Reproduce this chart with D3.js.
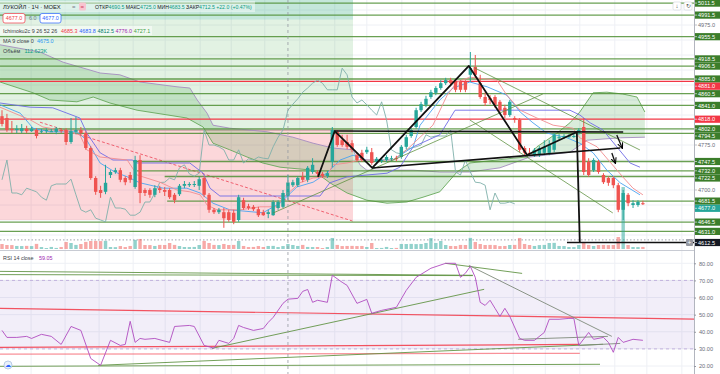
<!DOCTYPE html>
<html>
<head>
<meta charset="utf-8">
<script src="https://cdn.jsdelivr.net/npm/d3@7"></script>
<style>
html, body { margin: 0; padding: 0; background: #fff; }
svg { display: block; font-family: "Liberation Sans", Arial, sans-serif; }
</style>
</head>
<body>
<svg id="chart" width="720" height="374"></svg>
<script>
'use strict';

// ---- data ----
// hourly candles, [open, high, low, close]
const ohlc = [
  [4823,4833,4806,4810],[4820,4827,4797,4800],[4802,4815,4795,4800],[4800,4808,4795,4802],[4798,4810,4795,4803],
  [4802,4807,4795,4798],[4798,4805,4797,4802],[4800,4803,4786,4790],[4798,4802,4795,4798],[4798,4803,4795,4800],
  [4798,4802,4797,4798],[4797,4805,4793,4802],[4800,4803,4795,4798],[4800,4803,4775,4780],[4780,4820,4777,4798],
  [4797,4822,4793,4800],[4800,4805,4790,4795],[4795,4798,4767,4770],[4770,4773,4717,4720],[4720,4723,4692,4697],
  [4700,4707,4687,4695],[4697,4742,4693,4712],[4725,4733,4720,4730],[4730,4737,4727,4733],[4733,4737,4713,4717],
  [4720,4723,4708,4713],[4725,4730,4712,4717],[4705,4757,4702,4750],[4750,4758,4678,4695],[4700,4703,4690,4695],
  [4700,4703,4687,4692],[4692,4708,4688,4703],[4703,4707,4695,4700],[4700,4705,4690,4697],[4700,4703,4685,4688],
  [4692,4695,4678,4683],[4693,4710,4690,4707],[4707,4715,4703,4710],[4708,4713,4705,4710],[4710,4715,4705,4710],
  [4707,4722,4700,4718],[4720,4723,4688,4692],[4692,4695,4662,4667],[4667,4670,4660,4663],[4663,4670,4660,4667],
  [4663,4670,4637,4653],[4663,4667,4647,4650],[4662,4667,4643,4647],[4650,4692,4647,4688],[4683,4687,4667,4670],
  [4673,4677,4667,4670],[4672,4675,4665,4668],[4668,4672,4655,4658],[4663,4667,4657,4658],[4660,4667,4653,4663],
  [4658,4683,4657,4680],[4670,4683,4667,4680],[4672,4700,4670,4695],[4690.5,4725,4683.5,4712.5],[4708,4717,4705,4713],
  [4708,4723,4705,4720],[4722,4730,4713,4717],[4717,4740,4713,4737],[4730,4753,4727,4742],[4730,4733,4723,4727],
  [4727,4730,4720,4723],[4723,4732,4720,4728],[4747,4805,4738,4800],[4797,4800,4772,4775],[4783,4792,4772,4775],
  [4780,4792,4768,4772],[4778,4783,4763,4767],[4758,4762,4747,4750],[4762,4767,4747,4750],[4763,4772,4760,4767],
  [4763,4770,4742,4745],[4747,4755,4743,4752],[4750,4755,4745,4750],[4750,4758,4747,4755],[4752,4757,4748,4753],
  [4753,4757,4748,4752],[4755,4775,4752,4772],[4772,4792,4768,4788],[4790,4803,4787,4800],[4805,4837,4802,4833],
  [4833,4847,4830,4843],[4842,4857,4838,4852],[4855,4867,4852,4863],[4862,4873,4858,4870],[4870,4883,4867,4878],
  [4878,4887,4875,4883],[4883,4887,4873,4878],[4880,4885,4863,4867],[4880,4883,4863,4867],[4880,4883,4863,4867],
  [4892,4930,4880,4903],[4905,4925,4887,4892],[4878,4892,4852,4855],[4855,4863,4840,4845],[4853,4858,4843,4850],
  [4855,4858,4837,4842],[4847,4850,4830,4833],[4837,4842,4820,4825],[4825,4850,4822,4847],[4820,4823,4812,4817],
  [4817,4820,4763,4767],[4770,4773,4758,4762],[4762,4770,4757,4760],[4758,4770,4755,4767],[4758,4773,4755,4770],
  [4762,4783,4758,4772],[4762,4783,4758,4775],[4767,4795,4763,4792],[4787,4793,4783,4788],[4788,4793,4785,4790],
  [4788,4793,4787,4790],[4790,4795,4787,4790],[4795,4803,4792,4800],[4805,4820,4725,4730],[4747,4753,4722,4725],
  [4733,4753,4730,4750],[4747,4750,4727,4730],[4725,4728,4710,4713],[4720,4723,4707,4712],[4720,4723,4703,4708],
  [4708,4712,4663,4667],[4667,4700,4650,4695],[4692,4695,4673,4678],[4675,4683,4670,4678],[4675,4683,4672,4680],
  [4678,4682,4675,4677]
];
// volume per candle, thousands
const volumes = [
  112,90,88,68,66,70,65,115,44,22,46,24,44,158,135,92,112,160,180,182,178,184,45,42,66,44,68,205,226,90,
  88,68,92,90,135,92,66,45,44,46,90,182,135,92,88,113,90,92,180,68,44,46,66,45,68,70,44,66,112.623,90,
  68,92,46,44,45,22,44,248,92,66,68,70,66,68,45,135,22,24,46,22,24,113,112,115,110,113,135,246,135,180,
  90,68,66,92,90,250,158,112,90,92,88,66,68,90,92,248,113,90,68,88,92,135,138,68,66,45,44,90,135,92,
  68,90,92,88,90,270,1395,90,45,44,46
];
const hoverBar = 58;

// Ichimoku (9 26 52 26) and MA 9, as [bar, price]
const tenkan = [[-0.4,4838],[5.7,4817],[8.3,4805],[11.8,4800],[15.8,4792],[17.2,4767],[19.9,4755],[25.4,4750],
  [27.4,4725],[32,4713],[35.5,4700],[38.1,4697],[40.2,4692],[41.6,4675],[43.6,4667],[48.3,4667],[52.3,4672],
  [55.8,4672],[57,4687],[60.4,4712],[63.1,4720],[65.9,4722],[67.1,4742],[70,4745],[72.6,4750],[79.3,4750],
  [82.1,4767],[84.8,4788],[87.4,4808],[90.3,4858],[92.3,4880],[94.9,4888],[100.4,4883],[102.4,4858],
  [105.1,4833],[108.5,4820],[111.8,4808],[115.8,4803],[117.2,4787],[120.7,4772],[123.3,4747],[125.9,4722],
  [128,4703],[130,4692]];
const kijun = [[-0.4,4845],[5.7,4838],[10.3,4837],[15.8,4820],[17.2,4795],[19.9,4762],[22.5,4750],[26.4,4750],
  [27.4,4745],[38.1,4745],[40.8,4728],[42.2,4703],[44.2,4690],[64.5,4690],[66.5,4712],[70,4722],[74,4725],
  [78.1,4728],[80.7,4738],[83.4,4772],[88.8,4792],[91.9,4833],[115.2,4833],[117.2,4825],[119.3,4812],
  [121.9,4800],[124.7,4772],[127.4,4745],[129.4,4738]];
const ma9 = [[-0.4,4842],[3.7,4828],[6.3,4803],[9.7,4797],[15.2,4797],[17.2,4783],[19.9,4745],[22.9,4730],
  [25.4,4722],[28,4712],[32.7,4703],[37.5,4703],[40.2,4695],[42.8,4678],[46.2,4667],[52.9,4662],[56.4,4678],
  [59.8,4705],[63.1,4713],[65.9,4728],[68.6,4750],[71.2,4758],[74,4750],[79.3,4750],[83.4,4772],[84.8,4808],
  [88.8,4850],[91.5,4870],[94.9,4880],[98.4,4872],[102.4,4858],[105.1,4830],[107.7,4812],[110.5,4795],
  [114.6,4787],[117.2,4778],[119.9,4762],[122.7,4733],[125.4,4712],[129.4,4692]];
const spanA = [[-0.4,4880],[6.3,4862],[9.7,4850],[15.2,4847],[18.5,4855],[21.9,4845],[27.4,4833],[37.5,4820],
  [40.8,4805],[42.8,4778],[46.2,4767],[49.7,4755],[52.9,4745],[56.4,4738],[63.1,4733],[66.5,4712],[70,4695],
  [74,4683],[78.1,4678],[82.1,4680],[85.4,4688],[88.8,4697],[92.3,4730],[94.9,4745],[100.4,4750],[103.7,4753],
  [106.5,4755],[108.5,4772],[110.5,4783],[112.6,4795],[115.2,4812],[117.2,4830],[119.9,4862],[122.7,4863],
  [125.9,4860],[128.8,4855],[130.4,4830]];
const spanB = [[-0.4,4942],[7.7,4930],[12.4,4913],[19.9,4895],[23.9,4892],[28,4880],[35.5,4872],[38.1,4870],
  [39.6,4850],[41.6,4828],[42.8,4808],[46.2,4803],[53.8,4797],[59,4788],[63.1,4778],[67.1,4770],[71.2,4767],
  [72.6,4742],[74,4733],[83.4,4733],[88.8,4730],[94.9,4730],[101,4737],[107.1,4755],[115.2,4763],[118.7,4783],
  [125.4,4787],[130.4,4788]];
const chikouShift = 26;
const ichiValues = [4685.3, 4683.8, 4812.5, 4776.0, 4727.1];
const maValue = 4675.0;

// RSI 14
const rsiBars = [0,1,3,5,6,8,10,12,14,16,18,20,22,24,25,26,27,28,29,31,34,35,38,39,41,43,44,46,47,48,49,51,53,54,55,
  57,58,60,61,62,63,64,66,67,69,70,72,74,75,77,80,82,84,87,90,92,93,94,95,96,97,98,99,100,101,102,103,105,106,108,
  110,111,113,115,116,117,119,120,122,123,124,125,126,128,130];
const rsiValues = [40.8,36.7,36.7,37.3,36.1,38.5,37.3,32.6,43.1,40.8,24.4,20.4,35.0,32.0,32.6,46.1,33.8,36.1,35.6,
  36.1,33.8,43.1,43.7,43.1,32.0,30.4,35.0,33.2,36.1,43.7,42.5,40.8,41.9,45.5,48.4,56.6,59.05,59.5,63.6,64.7,57.2,
  58.4,57.2,73.0,68.9,67.1,56.6,58.9,50.8,52.5,54.3,64.2,71.8,77.1,80.0,80.0,71.8,74.2,78.2,71.8,57.2,55.4,58.4,
  53.7,49.0,53.7,49.0,36.1,35.0,35.0,39.6,47.3,47.3,47.8,47.8,32.0,39.6,35.6,36.7,33.8,28.0,36.7,33.8,35.6,35.0];
const rsiTicks = [20, 30, 40, 50, 60, 70, 80];

// drawn levels and tools
const levelPrices = [5011.5, 4991.5, 4955.5, 4918.5, 4906.5, 4885.0, 4860.5, 4841.0, 4802.0, 4794.5,
  4747.5, 4732.0, 4722.5, 4681.5, 4646.5, 4631.0];
const levelFromBars = [-1, -1, -1, -1, -1, -1, -1, -1, -1, -1, 26.6, 27.4, 33, 33.5, -1, -1];
const redLevels = [4881.0, 4818.0];
const keyLevel = 4612.5, keyLevelFrom = 114.6;
const plainTicks = [4975.0, 4775.0, 4700.0];
const lastPrice = 4677.0;
const priceGrid = d3.range(4625, 5016, 25);
const gridBars = [5.9, 12.8, 19.7, 26.6, 33.1, 40.2, 46.5, 53.3, 60.4, 67.5, 74, 81.1, 87.8, 94.9, 103.7,
  110.2, 117.2, 124.3, 130.8, 137.9];

// long position tool
const posBars = [-1, 71.2];
const posTarget = 5030, posLabel = 4984, posEntry = 4800, posStop = 4650;
const posDiag = [[7.7, 4813], [71.2, 4648]];

// pattern and trend lines, [bar, price]
const pattern = [[64.1,4721.7],[67.5,4798.3],[75.1,4736.7],[94.7,4906.7],[106.5,4758.3],[116.6,4796.7],[117.2,4612.5]];
const blackLines = [[[67.5,4798.3],[126,4796.7]], [[75.1,4736.7],[125.4,4770]]];
const arrows = [[[124.7,4791.7],[125.8,4770]], [[123.7,4761.7],[124.4,4745]]];
const greenTrends = [[[55,4661.7],[109.7,4860]], [[95.9,4903.3],[129.4,4766.7]], [[94.9,4816.7],[123.9,4661.7]]];

// RSI drawings, [bar, rsi]
const rsiRedLines = [[[-1,53.7],[141,47.4]], [[-1,30.9],[117.2,32.6]], [[-1,26.9],[117.2,27.4]]];
const rsiGreenLines = [[[-1,75.3],[95.5,73.0]], [[-1,73.4],[95.5,72.8]], [[89.9,80.0],[105.5,74.1]],
  [[42.6,30.3],[97.8,64.8]], [[19.5,20.4],[121.9,32.7]], [[-1,19.8],[121.3,21.0]]];
const rsiGreyLines = [[[94.7,78.8],[123.7,37.3]], [[104.7,35.6],[122.9,37.3]], [[117.2,32.0],[125.4,33.2]]];

// ---- layout ----
const plotW = 694, mainH = 250, rsiTop = 251, H = 374;
const UP = '#26a69a', DOWN = '#ef5350';

const x = d3.scaleLinear().domain([0, 140]).range([2, 692.2]);
const yP = d3.scaleLinear().domain([4600, 5016.67]).range([mainH, 0]);
const yV = d3.scaleLinear().domain([0, 1400]).range([249, 186.8]);
const yR = d3.scaleLinear().domain([20, 80]).range([366, 263.3]);

const svg = d3.select('#chart');
const defs = svg.append('defs');
defs.append('clipPath').attr('id', 'clipMain').append('rect').attr('width', plotW).attr('height', mainH);
defs.append('clipPath').attr('id', 'clipRsi').append('rect')
  .attr('y', rsiTop).attr('width', plotW).attr('height', H - rsiTop);
defs.append('marker').attr('id', 'arrow').attr('viewBox', '0 0 10 10').attr('refX', 8).attr('refY', 5)
  .attr('markerWidth', 5).attr('markerHeight', 5).attr('orient', 'auto-start-reverse')
  .append('path').attr('d', 'M0,1 L9,5 L0,9').attr('fill', 'none').attr('stroke', '#000').attr('stroke-width', 1.6);

const lineP = d3.line().x(d => x(d[0])).y(d => yP(d[1]));
const lineR = d3.line().x(d => x(d[0])).y(d => yR(d[1]));

// ---- main pane ----
const gm = svg.append('g').attr('clip-path', 'url(#clipMain)');

gm.selectAll('.vg').data(gridBars).join('line').attr('class', 'vg')
  .attr('x1', d => x(d)).attr('x2', d => x(d)).attr('y1', 0).attr('y2', mainH)
  .attr('stroke', '#eef0f5');
gm.selectAll('.hg').data(priceGrid).join('line').attr('class', 'hg')
  .attr('x1', 0).attr('x2', plotW).attr('y1', d => yP(d)).attr('y2', d => yP(d))
  .attr('stroke', '#eef0f5');

// position tool
const px0 = x(posBars[0]), px1 = x(posBars[1]);
gm.append('rect').attr('x', px0).attr('width', px1 - px0)
  .attr('y', yP(posTarget)).attr('height', yP(posEntry) - yP(posTarget))
  .attr('fill', 'rgba(76,175,80,0.16)');
gm.append('rect').attr('x', px0).attr('width', px1 - px0)
  .attr('y', yP(posTarget)).attr('height', yP(posLabel) - yP(posTarget))
  .attr('fill', 'rgba(0,160,170,0.13)');
gm.append('rect').attr('x', px0).attr('width', px1 - px0)
  .attr('y', yP(posEntry)).attr('height', yP(posStop) - yP(posEntry))
  .attr('fill', 'rgba(242,54,69,0.2)');
gm.append('line').attr('x1', px0).attr('x2', px1).attr('y1', yP(posEntry)).attr('y2', yP(posEntry))
  .attr('stroke', '#b08a88').attr('stroke-width', 1);
gm.append('path').attr('d', lineP(posDiag)).attr('fill', 'none')
  .attr('stroke', '#f06070').attr('stroke-width', 1).attr('stroke-dasharray', '3,2');

// cloud
gm.append('path').attr('d', lineP(spanA.concat(spanB.slice().reverse())) + 'Z')
  .attr('fill', 'rgba(67,160,71,0.2)');
gm.append('path').attr('d', lineP(spanA)).attr('fill', 'none').attr('stroke', '#66a85a').attr('stroke-width', 0.9);
gm.append('path').attr('d', lineP(spanB)).attr('fill', 'none').attr('stroke', '#a58cc0').attr('stroke-width', 0.9);

// horizontal levels
gm.selectAll('.lvl').data(levelPrices).join('line').attr('class', 'lvl')
  .attr('x1', (d, i) => x(levelFromBars[i])).attr('x2', plotW)
  .attr('y1', d => yP(d)).attr('y2', d => yP(d))
  .attr('stroke', '#4f8f34').attr('stroke-opacity', 0.85).attr('stroke-width', 1.3);
gm.selectAll('.red').data(redLevels).join('line').attr('class', 'red')
  .attr('x1', 0).attr('x2', plotW).attr('y1', d => yP(d)).attr('y2', d => yP(d))
  .attr('stroke', '#f23645').attr('stroke-width', 1.3);

// volume
const barW = 3.4;
gm.append('line').attr('x1', 0).attr('x2', plotW).attr('y1', yV(205)).attr('y2', yV(205))
  .attr('stroke', '#a0a3ab').attr('stroke-dasharray', '1.5,2');
gm.selectAll('.vol').data(volumes).join('rect').attr('class', 'vol')
  .attr('x', (d, i) => x(i) - barW / 2).attr('width', barW)
  .attr('y', d => yV(d)).attr('height', d => yV(0) - yV(d))
  .attr('fill', (d, i) => ohlc[i][3] >= ohlc[i][0] ? 'rgba(38,166,154,0.5)' : 'rgba(239,83,80,0.5)');

// indicator lines
const closes = ohlc.map(d => d[3]);
const chikou = closes.slice(chikouShift).map((c, i) => [i, c]);
gm.append('path').attr('d', lineP(chikou)).attr('fill', 'none').attr('stroke', '#7fb0aa').attr('stroke-width', 0.9);
gm.append('path').attr('d', lineP(kijun)).attr('fill', 'none').attr('stroke', '#6f6be6').attr('stroke-width', 0.9);
gm.append('path').attr('d', lineP(ma9)).attr('fill', 'none').attr('stroke', '#4aa3f0').attr('stroke-width', 0.9);
gm.append('path').attr('d', lineP(tenkan)).attr('fill', 'none').attr('stroke', '#f28c90').attr('stroke-width', 0.9);

// candles
const cg = gm.selectAll('.cdl').data(ohlc).join('g').attr('class', 'cdl');
cg.append('line')
  .attr('x1', (d, i) => x(i)).attr('x2', (d, i) => x(i))
  .attr('y1', d => yP(d[1])).attr('y2', d => yP(d[2]))
  .attr('stroke', d => d[3] >= d[0] ? UP : DOWN).attr('stroke-width', 1);
cg.append('rect')
  .attr('x', (d, i) => x(i) - barW / 2).attr('width', barW)
  .attr('y', d => yP(Math.max(d[0], d[3])))
  .attr('height', d => Math.max(1, Math.abs(yP(d[0]) - yP(d[3]))))
  .attr('fill', d => d[3] >= d[0] ? UP : DOWN);

// trend lines and pattern
gm.selectAll('.gt').data(greenTrends).join('path').attr('class', 'gt')
  .attr('d', d => lineP(d)).attr('fill', 'none')
  .attr('stroke', '#5b8f3c').attr('stroke-opacity', 0.85).attr('stroke-width', 0.9);
gm.append('line').attr('x1', x(keyLevelFrom)).attr('x2', plotW)
  .attr('y1', yP(keyLevel)).attr('y2', yP(keyLevel)).attr('stroke', '#111').attr('stroke-width', 1.6);
gm.selectAll('.bl').data(blackLines).join('path').attr('class', 'bl')
  .attr('d', d => lineP(d)).attr('fill', 'none').attr('stroke', '#111').attr('stroke-width', 1.7);
gm.append('path').attr('d', lineP(pattern)).attr('fill', 'none')
  .attr('stroke', '#111').attr('stroke-width', 1.8).attr('stroke-linejoin', 'round');
gm.selectAll('.ar').data(arrows).join('path').attr('class', 'ar')
  .attr('d', d => lineP(d)).attr('fill', 'none').attr('stroke', '#111').attr('stroke-width', 1.3)
  .attr('marker-end', 'url(#arrow)');

// ---- RSI pane ----
const gr = svg.append('g').attr('clip-path', 'url(#clipRsi)');
gr.selectAll('.vg').data(gridBars).join('line').attr('class', 'vg')
  .attr('x1', d => x(d)).attr('x2', d => x(d)).attr('y1', rsiTop).attr('y2', H).attr('stroke', '#eef0f5');
gr.selectAll('.hg').data(rsiTicks).join('line').attr('class', 'hg')
  .attr('x1', 0).attr('x2', plotW).attr('y1', d => yR(d)).attr('y2', d => yR(d)).attr('stroke', '#eef0f5');
gr.append('rect').attr('x', 0).attr('width', plotW).attr('y', yR(70)).attr('height', yR(30) - yR(70))
  .attr('fill', 'rgba(126,87,194,0.1)');
gr.selectAll('.band').data([70, 30]).join('line').attr('class', 'band')
  .attr('x1', 0).attr('x2', plotW).attr('y1', d => yR(d)).attr('y2', d => yR(d))
  .attr('stroke', '#c2b3dd').attr('stroke-dasharray', '3,3');
gr.selectAll('.rr').data(rsiRedLines).join('path').attr('class', 'rr')
  .attr('d', d => lineR(d)).attr('fill', 'none').attr('stroke', '#f23645')
  .attr('stroke-opacity', (d, i) => i === 2 ? 0.55 : 0.85).attr('stroke-width', 1.2);
gr.selectAll('.rg').data(rsiGreenLines).join('path').attr('class', 'rg')
  .attr('d', d => lineR(d)).attr('fill', 'none').attr('stroke', '#5b8f3c')
  .attr('stroke-opacity', 0.85).attr('stroke-width', 1);
gr.selectAll('.ry').data(rsiGreyLines).join('path').attr('class', 'ry')
  .attr('d', d => lineR(d)).attr('fill', 'none').attr('stroke', '#7f8a7a').attr('stroke-width', 0.9);
gr.append('path').attr('d', lineR(rsiBars.map((b, i) => [b, rsiValues[i]])))
  .attr('fill', 'none').attr('stroke', '#b04cc0').attr('stroke-width', 0.9);
gr.append('circle').attr('cx', 8).attr('cy', 365).attr('r', 4).attr('fill', '#eaf1fb').attr('stroke', '#b8cbe6');
gr.append('text').attr('x', 8).attr('y', 367).attr('text-anchor', 'middle')
  .attr('font-size', 5.5).attr('fill', '#2962ff').text('☁');

// crosshair, separators, axis border
svg.append('line').attr('x1', x(hoverBar)).attr('x2', x(hoverBar)).attr('y1', 0).attr('y2', H)
  .attr('stroke', '#9598a1').attr('stroke-dasharray', '3,3').attr('stroke-width', 0.8);
svg.append('line').attr('x1', 0).attr('x2', 720).attr('y1', 250.5).attr('y2', 250.5)
  .attr('stroke', '#c8cbd3').attr('stroke-width', 1.2);
svg.append('rect').attr('x', plotW).attr('y', 0).attr('width', 720 - plotW).attr('height', H).attr('fill', '#fff');
svg.append('line').attr('x1', plotW + 0.5).attr('x2', plotW + 0.5).attr('y1', 0).attr('y2', H)
  .attr('stroke', '#b2b5be');

// ---- price axis labels ----
const fmt = d3.format('.1f');
const labels = [];
levelPrices.forEach(p => labels.push({ p, bg: '#3b7d2a', fg: '#fff' }));
redLevels.forEach(p => labels.push({ p, bg: '#f23645', fg: '#fff' }));
plainTicks.forEach(p => labels.push({ p, bg: null, fg: '#6a6d78' }));
labels.push({ p: lastPrice, bg: '#26a69a', fg: '#fff' });
labels.push({ p: keyLevel, bg: '#131722', fg: '#fff' });
labels.forEach(l => { l.y = yP(l.p); });
labels.sort((a, b) => a.y - b.y);
const lh = 7.2;
for (let i = 1; i < labels.length; i++) {
  if (labels[i].y < labels[i - 1].y + lh) labels[i].y = labels[i - 1].y + lh;
}
const ax = svg.append('g');
const lg = ax.selectAll('.pl').data(labels).join('g').attr('class', 'pl');
lg.filter(d => d.bg).append('rect').attr('x', plotW + 1).attr('width', 720 - plotW - 1)
  .attr('y', d => d.y - lh / 2).attr('height', lh).attr('fill', d => d.bg);
lg.append('line').attr('x1', plotW + 1).attr('x2', plotW + 3).attr('y1', d => d.y).attr('y2', d => d.y)
  .attr('stroke', d => d.bg ? d.fg : '#9598a1').attr('stroke-width', 0.6);
lg.append('text').attr('x', plotW + 4).attr('y', d => d.y + 2.1)
  .attr('font-size', 5.6).attr('fill', d => d.fg).text(d => fmt(d.p));

// RSI axis
const rAxis = d3.axisRight(yR).tickValues(rsiTicks).tickFormat(d3.format('.2f')).tickSize(2).tickPadding(3);
svg.append('g').attr('transform', `translate(${plotW},0)`).call(rAxis)
  .call(g => g.select('.domain').remove())
  .call(g => g.selectAll('line').attr('stroke', '#9598a1'))
  .call(g => g.selectAll('text').attr('font-size', 5.6).attr('fill', '#6a6d78')
    .attr('font-family', '"Liberation Sans", Arial, sans-serif'));

// top-right buttons and crosshair "+" on the key level
[[673, '↓'], [684, '↻']].forEach(([bx, t]) => {
  svg.append('rect').attr('x', bx).attr('y', 2).attr('width', 8).attr('height', 8).attr('rx', 1.5)
    .attr('fill', '#fff').attr('stroke', '#d1d4dc').attr('stroke-width', 0.6);
  svg.append('text').attr('x', bx + 4).attr('y', 8.3).attr('text-anchor', 'middle')
    .attr('font-size', 6).attr('fill', '#555').text(t);
});
svg.append('rect').attr('x', 686).attr('y', yP(keyLevel) - 3.5).attr('width', 7).attr('height', 7)
  .attr('fill', '#9598a1').attr('rx', 1);
svg.append('text').attr('x', 689.5).attr('y', yP(keyLevel) + 2.3).attr('text-anchor', 'middle')
  .attr('font-size', 6.5).attr('fill', '#fff').text('+');

// ---- legend ----
const hd = svg.append('g').attr('font-size', 5.4).attr('fill', '#131722');
const hover = ohlc[hoverBar];
const TEAL = '#089981';
hd.append('rect').attr('x', 0).attr('y', 1).attr('width', 255).attr('height', 11).attr('fill', 'rgba(255,255,255,0.45)');
hd.append('text').attr('x', 3).attr('y', 9.2).attr('font-size', 5.8).text('ЛУКОЙЛ · 1Ч · MOEX');
hd.append('text').attr('x', 72).attr('y', 9.2).attr('font-size', 6).attr('fill', '#787b86').text('=');
hd.append('rect').attr('x', 79).attr('y', 2.5).attr('width', 7).attr('height', 8).attr('rx', 1.5).attr('fill', '#f8c4d0');
hd.append('text').attr('x', 80.4).attr('y', 9.2).attr('font-size', 6).attr('fill', '#d0405e').text('=');
const ohlcTxt = hd.append('text').attr('x', 95).attr('y', 9.2).attr('font-size', 5.15);
[['ОТКР', hover[0]], [' МАКС', hover[1]], [' МИН', hover[2]], [' ЗАКР', hover[3]]].forEach(([k, v]) => {
  ohlcTxt.append('tspan').text(k);
  ohlcTxt.append('tspan').attr('fill', TEAL).text(fmt(v));
});
ohlcTxt.append('tspan').attr('fill', TEAL)
  .text(` +${fmt(hover[3] - hover[0])} (+${d3.format('.2f')((hover[3] - hover[0]) / hover[0] * 100)}%)`);

// price pills
hd.append('rect').attr('x', 3).attr('y', 13.5).attr('width', 22).attr('height', 9.5).attr('rx', 2)
  .attr('fill', '#fff').attr('stroke', '#f23645').attr('stroke-width', 0.7);
hd.append('text').attr('x', 5.8).attr('y', 20.4).attr('fill', '#f23645').text(fmt(lastPrice));
hd.append('text').attr('x', 29).attr('y', 20.4).attr('fill', '#787b86').text('6.0');
hd.append('rect').attr('x', 40).attr('y', 13.5).attr('width', 21).attr('height', 9.5).attr('rx', 2)
  .attr('fill', '#fff').attr('stroke', '#2962ff').attr('stroke-width', 0.7);
hd.append('text').attr('x', 42.3).attr('y', 20.4).attr('fill', '#2962ff').text(fmt(lastPrice));

// indicator legend rows
const ichiColors = ['#f23645', '#2962ff', '#00796b', '#9c27b0', '#43a047'];
hd.append('rect').attr('x', 0).attr('y', 26).attr('width', 152).attr('height', 9).attr('fill', 'rgba(255,255,255,0.5)');
hd.append('text').attr('x', 3).attr('y', 32.6).attr('fill', '#3a3d46').text('Ichimoku2c 9 26 52 26');
ichiValues.forEach((v, i) => {
  hd.append('text').attr('x', 61 + i * 18.2).attr('y', 32.6).attr('fill', ichiColors[i]).text(fmt(v));
});
hd.append('text').attr('x', 3).attr('y', 42.6).attr('fill', '#3a3d46').text('MA 9 close 0');
hd.append('text').attr('x', 37).attr('y', 42.6).attr('fill', '#2196f3').text(fmt(maValue));
hd.append('text').attr('x', 3).attr('y', 52.6).attr('fill', '#3a3d46').text('Объём');
hd.append('text').attr('x', 24.5).attr('y', 52.6).attr('fill', TEAL).text(d3.format('.3f')(volumes[hoverBar]) + 'K');

// RSI title
const rsiHover = rsiValues[rsiBars.indexOf(hoverBar)];
hd.append('text').attr('x', 3).attr('y', 259.5).attr('fill', '#3a3d46').text('RSI 14 close');
hd.append('text').attr('x', 39).attr('y', 259.5).attr('fill', '#9c27b0').text(d3.format('.2f')(rsiHover));
</script>
</body>
</html>
